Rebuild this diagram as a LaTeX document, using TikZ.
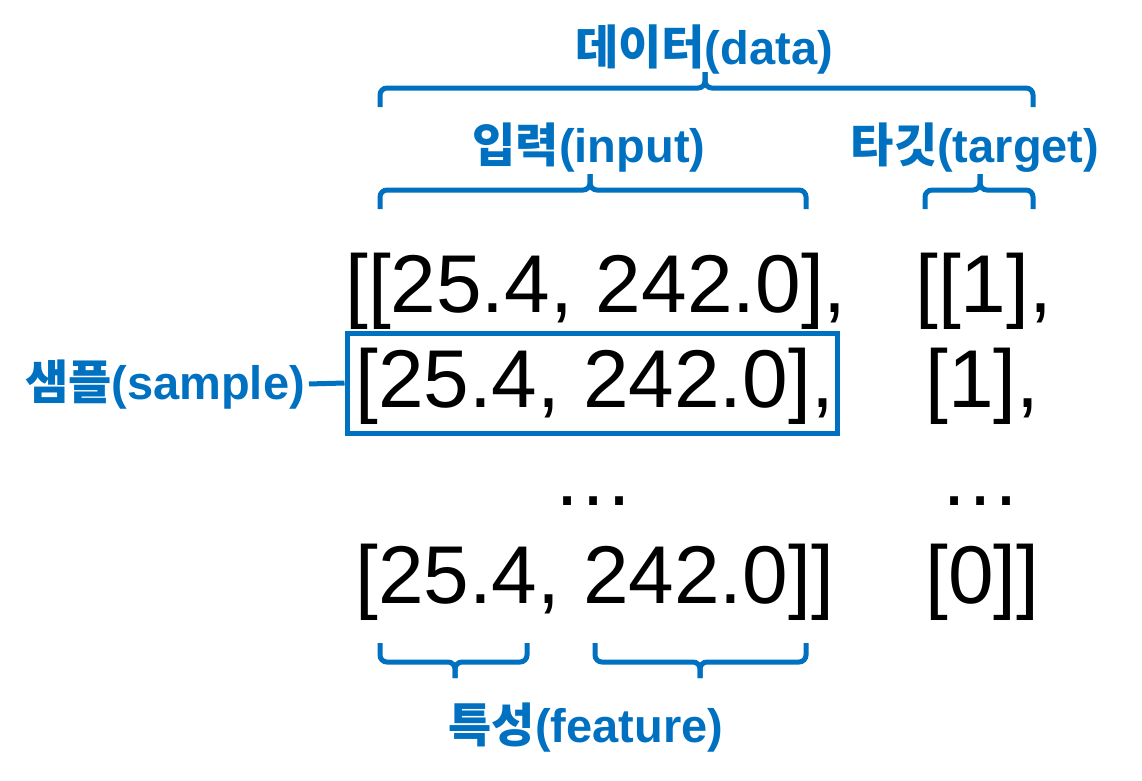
\documentclass[tikz,border=0pt]{standalone}
\usepackage{fontspec}
\setmainfont{Liberation Sans}
\newfontfamily\kr{Noto Sans CJK KR}
\definecolor{lblue}{HTML}{0070C0}
\newcommand\topbrace[4]{%
  \draw[brc] (#1,#4+19) -- (#1,#4) -- (#3,#4) -- (#3,#4-16);
  \draw[brc] (#2,#4+19) -- (#2,#4) -- (#3,#4) -- (#3,#4-16);}
\newcommand\botbrace[4]{%
  \draw[brc] (#1,#4-19) -- (#1,#4) -- (#3,#4) -- (#3,#4+16);
  \draw[brc] (#2,#4-19) -- (#2,#4) -- (#3,#4) -- (#3,#4+16);}
\begin{document}
\begin{tikzpicture}[x=1pt,y=-1pt,
  num/.style={inner sep=0pt, anchor=base west, font=\fontsize{82}{98}\selectfont},
  lab/.style={inner sep=0pt, anchor=base, text=lblue, font=\fontsize{47}{56}\selectfont\bfseries},
  brc/.style={draw=lblue, line width=5pt, rounded corners=7pt}]
\useasboundingbox (0,0) rectangle (1142,780);
% labels
\node[lab] (data) at (704,64) {{\kr 데이터}(data)};
\node[lab] (input) at (589,162) {{\kr 입력}(input)};
\node[lab] (target) at (975,162) {{\kr 타깃}(target)};
\node[lab, anchor=base east] (sample) at (305,399) {{\kr 샘플}(sample)};
\node[lab] (feature) at (586,742) {{\kr 특성}(feature)};
% braces
\topbrace{380}{1033}{705}{88}
\topbrace{380}{806}{590}{190}
\topbrace{925}{1033}{980}{190}
\botbrace{380}{527}{455}{662}
\botbrace{595}{806}{700}{662}
% numbers
\node[num] (r1) at (345,312) {[[25.4, 242.0],};
\node[num] (r2) at (355,407) {[25.4, 242.0],};
\node[num, anchor=base] (r3) at (593,505) {…};
\node[num] (r4) at (355,603) {[25.4, 242.0]]};
\node[num] (t1) at (915,312) {[[1],};
\node[num] (t2) at (925,407) {[1],};
\node[num, anchor=base] (t3) at (980,505) {…};
\node[num] (t4) at (925,603) {[0]]};
% sample box
\node[draw=lblue, line width=5pt, minimum width=490pt, minimum height=100pt, inner sep=0pt] (box) at (592,383) {};
\draw[lblue, line width=5pt, shorten <=4pt] (sample.east) -- (box.west);
\end{tikzpicture}
\end{document}
